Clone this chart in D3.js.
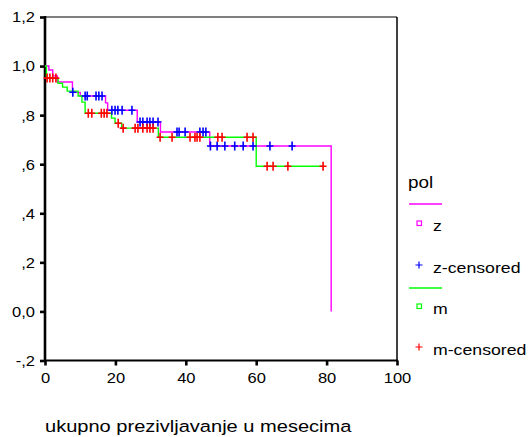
<!DOCTYPE html>
<html>
<head>
<meta charset="utf-8">
<script src="https://cdn.jsdelivr.net/npm/d3@7"></script>
<style>
  body { margin: 0; background: #fff; }
  svg text { font-family: "Liberation Sans", Arial, sans-serif; fill: #000; }
</style>
</head>
<body>
<svg id="chart" width="528" height="437"></svg>
<script>
// Kaplan-Meier krive po polu (z / m)

// z: vremena dogadjaja i procenjeno prezivljavanje
const zTimes = [0, 1.1, 2.2, 3.5, 7.8, 10, 17.2, 17.8, 26.2, 32.8, 46.8, 81.3];
const zSurv  = [1, 0.984, 0.96, 0.935, 0.893, 0.878, 0.85, 0.82, 0.772, 0.731, 0.674, 0];
const zCensored = [7.9, 11.4, 12.0, 14.5, 15.3, 16.2, 19.0, 19.9, 20.7, 21.9, 24.7,
                   27.0, 27.8, 29.0, 29.8, 30.7, 32.1, 37.5, 38.1, 39.8, 44.0, 44.9, 45.7,
                   47.0, 48.9, 51.1, 53.9, 56.3, 59.1, 63.9, 70.2];

// m
const mTimes = [0, 0.4, 3.7, 5.0, 6.3, 9.4, 10.5, 11.4, 18.9, 19.9, 21.8, 32.2, 60];
const mSurv  = [1, 0.951, 0.93, 0.914, 0.898, 0.878, 0.853, 0.808, 0.788, 0.767, 0.747, 0.71, 0.592];
const mCensored = [0.6, 1.4, 2.2, 3.1, 12.3, 13.3, 16.0, 16.8, 17.6, 20.8,
                   22.2, 25.6, 26.4, 27.8, 29.0, 29.8, 30.7,
                   32.7, 36.1, 41.2, 42.6, 43.2, 44.0, 49.1, 50.3, 57.4, 59.1,
                   63.1, 64.8, 69.0, 79.0];

const xTicks = [0, 20, 40, 60, 80, 100];
const yTicks = [-0.2, 0, 0.2, 0.4, 0.6, 0.8, 1.0, 1.2];
const yTickLabels = ["-,2", "0,0", ",2", ",4", ",6", ",8", "1,0", "1,2"];

const legendItems = ["z", "z-censored", "m", "m-censored"];
const xTitle = "ukupno prezivljavanje u mesecima";
const legendTitle = "pol";

const colors = { z: "#ff00ff", zc: "#0000ff", m: "#00ff00", mc: "#ff0000" };
const stretch = "scale(1.18,1)";

const svg = d3.select("#chart");
const plotLeft = 45, plotRight = 397, plotTop = 17, plotBottom = 360.5;

const x = d3.scaleLinear().domain([0, 100]).range([plotLeft, plotRight]);
const y = d3.scaleLinear().domain([-0.2, 1.2]).range([plotBottom, plotTop]);

// stepenasta linija: vertikalni pad u trenutku dogadjaja
function stepPoints(times, surv, lastTime) {
    const pts = [];
    times.forEach((t, i) => {
        if (i > 0) pts.push([t, surv[i - 1]]);
        pts.push([t, surv[i]]);
    });
    if (lastTime > times[times.length - 1]) pts.push([lastTime, surv[surv.length - 1]]);
    return pts;
}

function survAt(times, surv, t) {
    let s = surv[0];
    times.forEach((tt, i) => { if (tt <= t) s = surv[i]; });
    return s;
}

const line = d3.line().x(d => x(d[0])).y(d => y(d[1]));

// okvir
svg.append("line").attr("x1", plotLeft).attr("x2", plotRight).attr("y1", plotTop).attr("y2", plotTop)
    .attr("stroke", "#000").attr("stroke-width", 1.2);
svg.append("line").attr("x1", plotRight).attr("x2", plotRight).attr("y1", plotTop).attr("y2", plotBottom)
    .attr("stroke", "#000").attr("stroke-width", 1.5);

// ose
const yAxis = d3.axisLeft(y).tickValues(yTicks).tickSize(5)
    .tickFormat((d, i) => yTickLabels[i]);
const gy = svg.append("g").attr("transform", `translate(${plotLeft},0)`).call(yAxis);
gy.select(".domain").remove();
gy.selectAll(".tick line").attr("stroke-width", 2.6);
gy.selectAll(".tick text")
    .attr("x", 0).attr("dy", "0.35em")
    .attr("transform", `translate(-10,0) ${stretch}`)
    .attr("font-size", 14).attr("text-anchor", "end");

const xAxis = d3.axisBottom(x).tickValues(xTicks).tickSize(5);
const gx = svg.append("g").attr("transform", `translate(0,${plotBottom})`).call(xAxis);
gx.select(".domain").remove();
gx.selectAll(".tick line").attr("stroke-width", 2.6);
gx.selectAll(".tick text")
    .attr("y", 0).attr("dy", 0)
    .attr("transform", `translate(0,22.5) ${stretch}`)
    .attr("font-size", 14);

svg.append("line").attr("x1", plotLeft).attr("x2", plotLeft).attr("y1", plotTop - 1).attr("y2", plotBottom + 1)
    .attr("stroke", "#000").attr("stroke-width", 2.6);
svg.append("line").attr("x1", plotLeft - 1).attr("x2", plotRight + 1).attr("y1", plotBottom).attr("y2", plotBottom)
    .attr("stroke", "#000").attr("stroke-width", 2.2);

// krive
const plot = svg.append("g");
plot.append("path").datum(stepPoints(zTimes, zSurv, 0))
    .attr("d", line).attr("fill", "none").attr("stroke", colors.z).attr("stroke-width", 1.4);
plot.append("path").datum(stepPoints(mTimes, mSurv, d3.max(mCensored)))
    .attr("d", line).attr("fill", "none").attr("stroke", colors.m).attr("stroke-width", 1.4);

function plus(g, cx, cy, color) {
    g.append("path")
        .attr("d", `M${cx - 3.5},${cy}H${cx + 3.5}M${cx},${cy - 4.5}V${cy + 4.5}`)
        .attr("stroke", color).attr("stroke-width", 1.6).attr("fill", "none");
}

zCensored.forEach(t => plus(plot, x(t), y(survAt(zTimes, zSurv, t)), colors.zc));
mCensored.forEach(t => plus(plot, x(t), y(survAt(mTimes, mSurv, t)), colors.mc));

// legenda
const lg = svg.append("g");
lg.append("text").attr("transform", `translate(408,188) ${stretch}`)
    .attr("font-size", 16).text(legendTitle);

const legendRows = [
    { label: legendItems[0], y: 227, kind: "square", color: colors.z, lineY: 204 },
    { label: legendItems[1], y: 269, kind: "plus", color: colors.zc },
    { label: legendItems[2], y: 310, kind: "square", color: colors.m, lineY: 288 },
    { label: legendItems[3], y: 351, kind: "plus", color: colors.mc }
];

legendRows.forEach(r => {
    if (r.lineY) {
        lg.append("line").attr("x1", 409).attr("x2", 442).attr("y1", r.lineY).attr("y2", r.lineY)
            .attr("stroke", r.color).attr("stroke-width", 1.5);
    }
    if (r.kind === "square") {
        lg.append("rect").attr("x", 417).attr("y", r.y - 6).attr("width", 4.5).attr("height", 4.5)
            .attr("fill", "none").attr("stroke", r.color).attr("stroke-width", 1.2);
    } else {
        lg.append("path")
            .attr("d", `M415.5,${r.y - 4}H422.5M419,${r.y - 7.5}V${r.y - 0.5}`)
            .attr("stroke", r.color).attr("stroke-width", 1.2);
    }
    lg.append("text").attr("transform", `translate(433,${r.y + 4}) ${stretch}`)
        .attr("font-size", 15).text(r.label);
});

svg.append("text").attr("transform", `translate(45,432) ${stretch}`)
    .attr("font-size", 17).text(xTitle);
</script>
</body>
</html>
